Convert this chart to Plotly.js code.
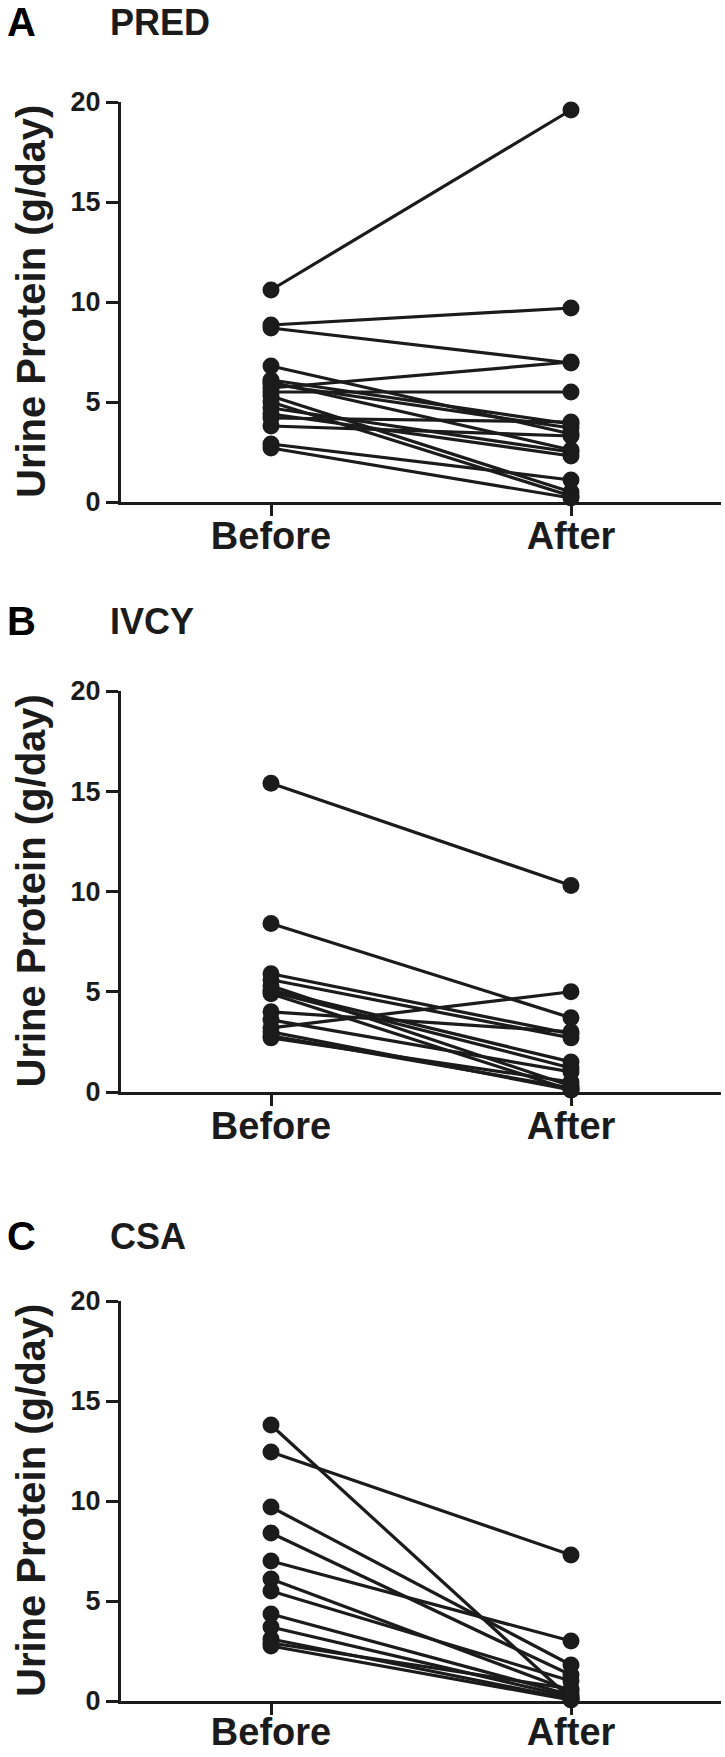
<!DOCTYPE html>
<html>
<head>
<meta charset="utf-8">
<script src="https://cdn.plot.ly/plotly-3.0.1.min.js"></script>
<style>
  html, body { margin: 0; padding: 0; background: #ffffff; }
  #chart { width: 725px; height: 1757px; }
</style>
</head>
<body>
<div id="chart"></div>
<script>
// ---- Data ----
const categories = ['Before', 'After'];
const yTicks = [0, 5, 10, 15, 20];

const panelLetters = ['A', 'B', 'C'];
const panelTitles = ['PRED', 'IVCY', 'CSA'];
const yAxisLabel = 'Urine Protein (g/day)';

// PRED: urine protein before / after (g/day), paired by index
const predBefore = [10.6, 8.85, 8.7, 5.7, 5.5, 6.8, 6.1, 5.9, 6.0, 4.7, 4.2, 3.8, 5.3, 5.0, 2.9, 2.7, 4.4];
const predAfter  = [19.6, 9.7, 6.95, 7.0, 5.5, 3.4, 3.9, 3.7, 2.6, 2.5, 4.0, 3.3, 0.5, 0.3, 1.1, 0.2, 2.3];

// IVCY
const ivcyBefore = [15.4, 8.4, 3.2, 5.9, 5.6, 5.3, 5.1, 4.9, 4.0, 3.6, 2.8, 2.7, 5.0, 3.0];
const ivcyAfter  = [10.3, 3.7, 5.0, 2.9, 2.7, 0.3, 1.5, 0.1, 3.0, 1.0, 0.2, 0.5, 1.2, 0.1];

// CSA
const csaBefore = [13.8, 12.45, 9.7, 8.4, 7.0, 6.1, 5.5, 4.35, 3.7, 3.1, 2.75, 2.9];
const csaAfter  = [0.1, 7.3, 1.8, 1.3, 3.0, 0.5, 1.0, 0.3, 0.2, 0.1, 0.05, 0.6];

const groups = [
  { before: predBefore, after: predAfter },
  { before: ivcyBefore, after: ivcyAfter },
  { before: csaBefore, after: csaAfter }
];

// ---- Styling / layout ----
const INK = '#1b1b1b';
const FONT = 'Liberation Sans, Arial, Helvetica, sans-serif';
const W = 725, H = 1757;
const ML = 121, MR = 4;
// plot area pixel extents (top, bottom) for each panel
const panelPx = [[102, 502], [691, 1092], [1301, 1701]];
const letterCenterY = [22, 621, 1236];
const xLabelStandoff = [-13, -13, -16];

const traces = [];
groups.forEach((g, gi) => {
  const ax = gi === 0 ? '' : String(gi + 1);
  for (let i = 0; i < g.before.length; i++) {
    traces.push({
      type: 'scatter',
      mode: 'lines+markers',
      x: categories,
      y: [g.before[i], g.after[i]],
      xaxis: 'x' + ax,
      yaxis: 'y' + ax,
      line: { color: INK, width: 3.2 },
      marker: { color: INK, size: 17, line: { width: 0 } },
      cliponaxis: false,
      showlegend: false,
      hoverinfo: 'skip'
    });
  }
});

const layout = {
  width: W,
  height: H,
  margin: { l: ML, r: MR, t: 0, b: 0, pad: 0 },
  paper_bgcolor: '#ffffff',
  plot_bgcolor: '#ffffff',
  showlegend: false,
  font: { family: FONT, color: INK, weight: 'bold' },
  annotations: []
};

const plotW = W - ML - MR;
panelPx.forEach((p, gi) => {
  const ax = gi === 0 ? '' : String(gi + 1);
  const dom = [1 - p[1] / H, 1 - p[0] / H];
  layout['xaxis' + ax] = {
    type: 'category',
    categoryorder: 'array',
    categoryarray: categories,
    range: [-0.5, 1.5],
    domain: [0, 1],
    anchor: 'y' + ax,
    showline: true,
    linecolor: INK,
    linewidth: 3,
    showgrid: false,
    zeroline: false,
    ticks: 'outside',
    ticklen: 11,
    tickwidth: 3,
    tickcolor: INK,
    ticklabelstandoff: xLabelStandoff[gi],
    tickfont: { family: FONT, size: 38, color: INK, weight: 'bold' },
    fixedrange: true
  };
  layout['yaxis' + ax] = {
    range: [0, 20],
    domain: dom,
    anchor: 'x' + ax,
    tickvals: yTicks,
    ticktext: yTicks.map(String),
    showline: true,
    linecolor: INK,
    linewidth: 3,
    showgrid: false,
    zeroline: false,
    ticks: 'outside',
    ticklen: 12,
    tickwidth: 3,
    tickcolor: INK,
    tickfont: { family: FONT, size: 27, color: INK, weight: 'bold' },
    fixedrange: true
  };
  // y-axis label (rotated)
  layout.annotations.push({
    xref: 'paper', yref: 'paper',
    x: (31 - ML) / plotW, y: 1 - ((p[0] + p[1]) / 2) / H,
    xanchor: 'center', yanchor: 'middle',
    text: yAxisLabel, textangle: -90, showarrow: false,
    font: { family: FONT, size: 40, color: INK, weight: 'bold' }
  });
  // panel letter
  layout.annotations.push({
    xref: 'paper', yref: 'paper',
    x: (5 - ML) / plotW, y: 1 - letterCenterY[gi] / H,
    xanchor: 'left', yanchor: 'middle',
    text: panelLetters[gi], showarrow: false,
    font: { family: FONT, size: 40, color: '#000000', weight: 'bold' }
  });
  // panel title
  layout.annotations.push({
    xref: 'paper', yref: 'paper',
    x: (108 - ML) / plotW, y: 1 - letterCenterY[gi] / H,
    xanchor: 'left', yanchor: 'middle',
    text: panelTitles[gi], showarrow: false,
    font: { family: FONT, size: 36, color: INK, weight: 'bold' }
  });
});

Plotly.newPlot('chart', traces, layout, { staticPlot: true, displayModeBar: false });
</script>
</body>
</html>
